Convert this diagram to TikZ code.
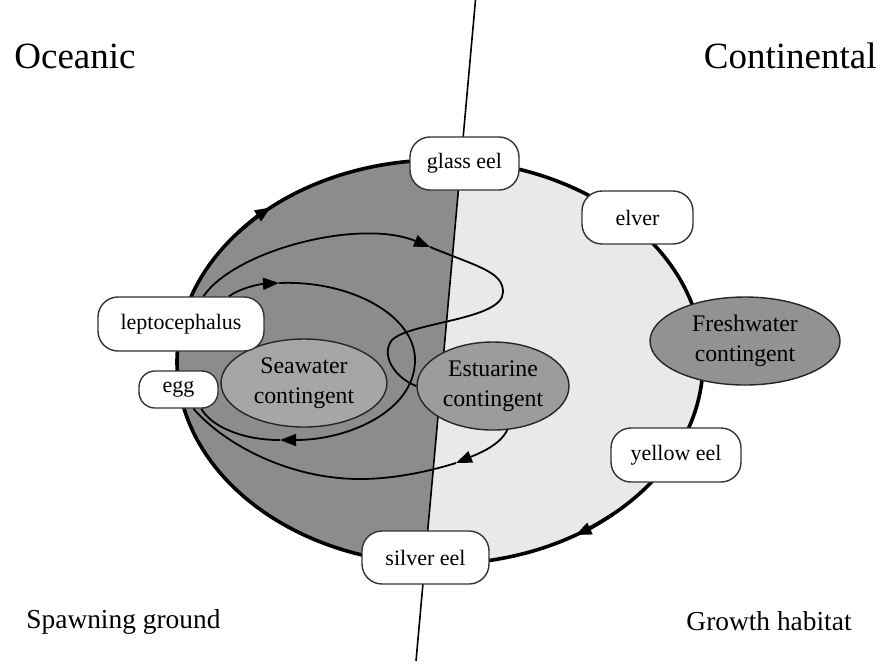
\documentclass[tikz,border=0pt]{standalone}
\usepackage{fontspec}
\setmainfont{Liberation Serif}
\usetikzlibrary{arrows.meta,shapes.geometric}

\definecolor{oceangray}{RGB}{140,140,140}
\definecolor{landgray}{RGB}{233,233,233}
\definecolor{seagray}{RGB}{166,166,166}
\definecolor{estgray}{RGB}{156,156,156}
\definecolor{freshgray}{RGB}{146,146,146}

\tikzset{
  stage/.style={draw=black!80, line width=0.7pt, fill=white, rounded corners=10pt,
    inner sep=0pt, font=\fontsize{11}{13}\selectfont},
  contingent/.style={ellipse, draw=black!85, line width=0.7pt, inner sep=0pt,
    align=center, font=\fontsize{11.9}{15}\selectfont},
  flow/.style={line width=0.9pt},
  tip/.style={-{Triangle[length=8pt,width=6pt]}},
  habitat/.style={inner sep=0pt, font=\fontsize{18.5}{22}\selectfont},
  area/.style={inner sep=0pt, font=\fontsize{13.7}{16}\selectfont},
}

\begin{document}
\begin{tikzpicture}[x=0.5pt,y=-0.5pt]
\useasboundingbox (0,0) rectangle (893,661);

% oceanic and continental halves of the cycle
\begin{scope}
\clip (440,362) ellipse [x radius=263,y radius=202];
\fill[landgray] (0,0) rectangle (893,661);
\fill[oceangray] (0,0) -- (475.5,0) -- (416,661) -- (0,661) -- cycle;
\end{scope}

\coordinate (divtop) at (475.5,0);
\coordinate (divbot) at (416,661);
\draw[line width=0.8pt] (divtop) -- (divbot);

\draw[line width=1.8pt] (440,362) ellipse [x radius=263,y radius=202];
\draw[line width=1.8pt,tip] (440,362) ++(220:263 and 202)
  arc[start angle=220,end angle=230,x radius=263,y radius=202];
\draw[line width=1.8pt,tip] (440,362) ++(49:263 and 202)
  arc[start angle=49,end angle=59,x radius=263,y radius=202];

\node[habitat,anchor=base west] (oceanic) at (14,68) {Oceanic};
\node[habitat,anchor=base east] (continental) at (877,68) {Continental};
\node[area,anchor=base west] (spawning) at (26,628) {Spawning ground};
\node[area,anchor=base east] (growth) at (852,630) {Growth habitat};

\node[contingent,fill=seagray,minimum width=83pt,minimum height=44pt] (sea) at (304,383) {Seawater\\contingent};
\node[contingent,fill=estgray,minimum width=76pt,minimum height=44pt] (est) at (493,386) {Estuarine\\contingent};
\node[contingent,fill=freshgray,minimum width=95pt,minimum height=44pt] (fresh) at (745,341) {Freshwater\\contingent};

\node[stage,minimum width=54.5pt,minimum height=26.5pt] (glass) at (464.5,163.5) {glass eel};
\node[stage,minimum width=55.5pt,minimum height=26.5pt] (elver) at (637.5,217.5) {elver};
\node[stage,minimum width=83pt,minimum height=27pt] (lepto) at (181,324) {leptocephalus};
\node[stage,minimum width=39.5pt,minimum height=18.5pt,rounded corners=8pt] (egg) at (178.5,389.5) {egg};
\node[stage,minimum width=65pt,minimum height=27pt] (yellow) at (676,455) {yellow eel};
\node[stage,minimum width=63.5pt,minimum height=26.5pt] (silver) at (425.5,557.5) {silver eel};

% seawater loop
\coordinate (seatop) at (279,283);
\coordinate (seaeast) at (415,360);
\coordinate (seabot) at (280,440);
\draw[flow,tip] (lepto.30) .. controls (240,288) and (260,284) .. (seatop);
\draw[flow] (seatop) .. controls (350,280) and (415,315) .. (seaeast);
\draw[flow,tip] (seaeast) .. controls (415,410) and (350,440) .. (seabot);
\draw[flow] (seabot) .. controls (240,440) and (210,425) .. (egg.-40);

% estuarine loop
\coordinate (esttop) at (430,247);
\coordinate (estturn) at (503,292);
\coordinate (estbot) at (456,463);
\coordinate (ringbot) at (360,479);
\draw[flow,tip] (lepto.51) .. controls (235,250) and (360,218) .. (esttop);
\draw[flow] (esttop) .. controls (479,267) and (503,272) .. (estturn)
  .. controls (503,320) and (410,322) .. (392,340)
  .. controls (380,355) and (395,378) .. (est.west);
\draw[flow,tip] (est.-72) .. controls (500,445) and (480,453) .. (estbot);
\draw[flow] (estbot) .. controls (430,471) and (395,479) .. (ringbot)
  .. controls (290,479) and (225,445) .. (egg.-52);
\end{tikzpicture}
\end{document}
